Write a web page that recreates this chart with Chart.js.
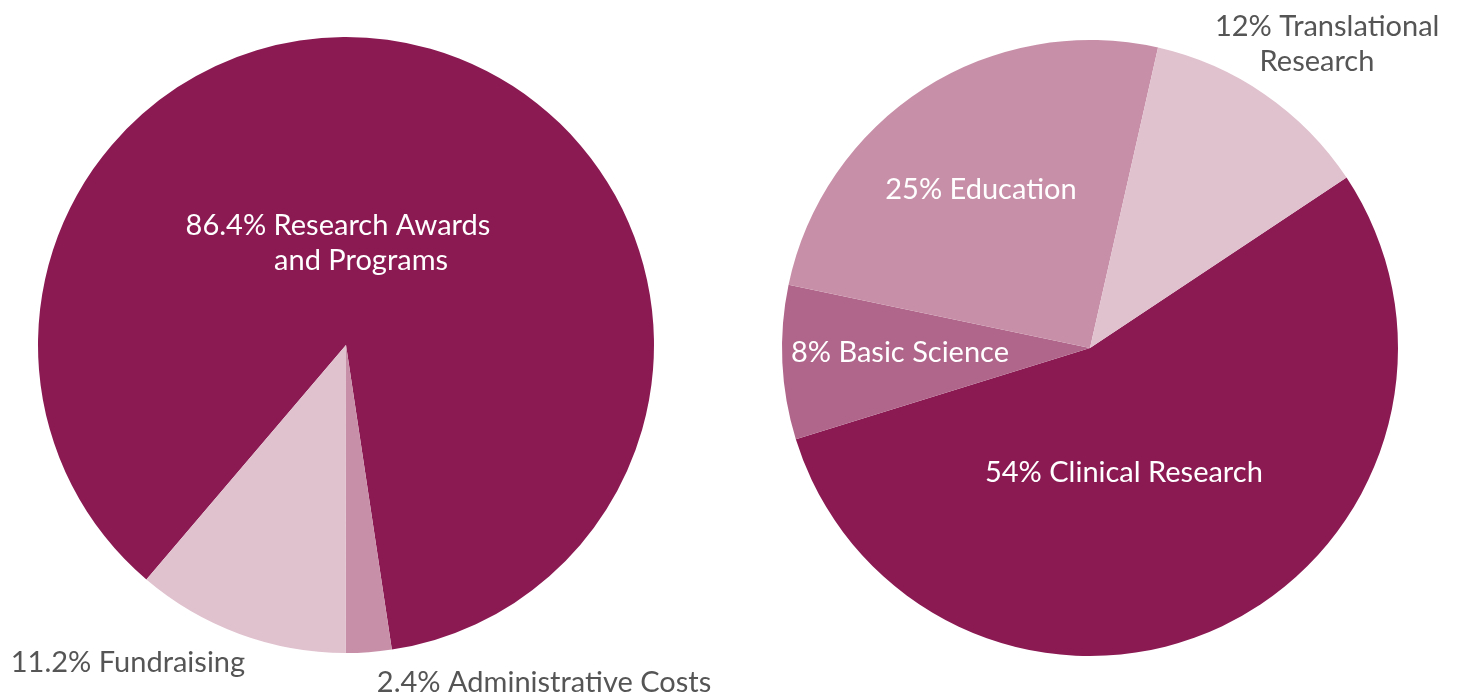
<!DOCTYPE html>
<html>
<head>
<meta charset="utf-8">
<script src="https://cdn.jsdelivr.net/npm/chart.js@4"></script>
<style>
  html, body { margin: 0; padding: 0; background: #fff; }
  #wrap { position: relative; width: 1460px; height: 698px; }
  canvas { position: absolute; left: 0; top: 0; }
</style>
</head>
<body>
<div id="wrap">
  <canvas id="spend" width="1460" height="698"></canvas>
  <canvas id="research" width="1460" height="698"></canvas>
</div>
<script>
// left pie: where the money goes
const spendLabels = ['Research Awards and Programs', 'Administrative Costs', 'Fundraising'];
const spendValues = [86.4, 2.4, 11.2];
const spendColors = ['#8b1a53', '#c890a8', '#e0c1ce'];

// right pie: research portfolio
const researchLabels = ['Clinical Research', 'Basic Science', 'Education', 'Translational Research'];
const researchValues = [54, 8, 25, 12];
const researchColors = ['#8b1a53', '#b0668a', '#c890a8', '#e0c1ce'];

// label text lines, per slice
const spendText = [['86.4% Research Awards', 'and Programs'], ['2.4% Administrative Costs'], ['11.2% Fundraising']];
const researchText = [['54% Clinical Research'], ['8% Basic Science'], ['25% Education'], ['12% Translational', 'Research']];

// label placement relative to pie centre, in units of radius (one [dx, dy] per line)
const spendPos = [[[-0.026, -0.386], [0.049, -0.273]], [[0.643, 1.097]], [[-0.708, 1.032]]];
const researchPos = [[[0.110, 0.406]], [[-0.617, 0.016]], [[-0.354, -0.513]], [[0.770, -1.042], [0.737, -0.929]]];
const spendInk = ['#ffffff', '#555555', '#555555'];
const researchInk = ['#ffffff', '#ffffff', '#ffffff', '#555555'];

const sliceLabels = {
  id: 'sliceLabels',
  afterDraw(chart, args, opts) {
    const arc = chart.getDatasetMeta(0).data[0];
    const r = arc.outerRadius;
    const ctx = chart.ctx;
    ctx.save();
    ctx.font = '29px Lato, "Open Sans", sans-serif';
    ctx.textAlign = 'center';
    ctx.textBaseline = 'middle';
    opts.text.forEach((lines, i) => {
      ctx.fillStyle = opts.ink[i];
      lines.forEach((t, j) => {
        const p = opts.pos[i][j];
        ctx.fillText(t, arc.x + p[0] * r, arc.y + p[1] * r);
      });
    });
    ctx.restore();
  }
};

function makePie(id, labels, values, colors, rotation, padding, text, pos, ink) {
  return new Chart(document.getElementById(id), {
    type: 'pie',
    data: {
      labels: labels,
      datasets: [{ data: values, backgroundColor: colors, borderWidth: 0 }]
    },
    options: {
      responsive: false,
      animation: false,
      rotation: rotation,
      layout: { padding: padding },
      plugins: {
        legend: { display: false },
        tooltip: { enabled: false },
        sliceLabels: { text: text, pos: pos, ink: ink }
      }
    },
    plugins: [sliceLabels]
  });
}

makePie('spend', spendLabels, spendValues, spendColors, 220.4,
  { left: 38, right: 806, top: 37, bottom: 45 }, spendText, spendPos, spendInk);
makePie('research', researchLabels, researchValues, researchColors, 56.4,
  { left: 782, right: 62, top: 40, bottom: 42 }, researchText, researchPos, researchInk);
</script>
</body>
</html>
